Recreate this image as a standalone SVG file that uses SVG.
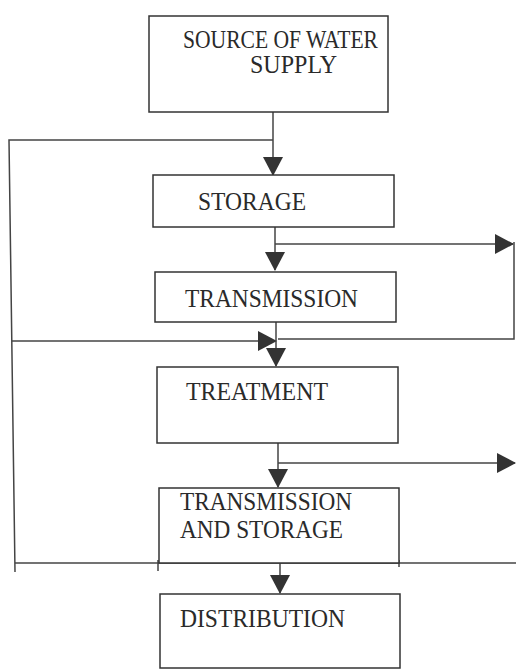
<svg xmlns="http://www.w3.org/2000/svg" width="516" height="670" viewBox="0 0 516 670">
<style>
.box{fill:#fff;stroke:#333;stroke-width:1.5}
.lbl{font-family:"Liberation Serif","Times New Roman",serif;font-size:25px;fill:#2a2a2a}
.ln{fill:none;stroke:#444;stroke-width:1.5}
</style>
<defs>
<marker id="ah" markerUnits="userSpaceOnUse" markerWidth="19" markerHeight="20" viewBox="0 0 19 20" refX="18" refY="10" orient="auto">
<path d="M0,0 L19,10 L0,20 Z" fill="#333"/>
</marker>
</defs>
<rect width="516" height="670" fill="#fff"/>
<g id="connectors">
<path class="ln" d="M273,112 V175" marker-end="url(#ah)"/>
<path class="ln" d="M273,140 H9 L15,572"/>
<path class="ln" d="M275,227 V270" marker-end="url(#ah)"/>
<path class="ln" d="M275,244 H513" marker-end="url(#ah)"/>
<path class="ln" d="M514,242 V339 H278"/>
<path class="ln" d="M12,341 H276" marker-end="url(#ah)"/>
<path class="ln" d="M276,322 V366" marker-end="url(#ah)"/>
<path class="ln" d="M278,443 V487" marker-end="url(#ah)"/>
<path class="ln" d="M278,463 H515" marker-end="url(#ah)"/>
<path class="ln" d="M15,563 H516"/>
<path class="ln" d="M158,560 V571 M399,560 V567"/>
<path class="ln" d="M280,563 V593" marker-end="url(#ah)"/>
</g>
<g id="source">
<rect class="box" x="149" y="16" width="239" height="96"/>
<text class="lbl" x="183" y="48" textLength="195" lengthAdjust="spacingAndGlyphs">SOURCE OF WATER</text>
<text class="lbl" x="250" y="73" textLength="87" lengthAdjust="spacingAndGlyphs">SUPPLY</text>
</g>
<g id="storage">
<rect class="box" x="153" y="175" width="241" height="52"/>
<text class="lbl" x="198" y="210" textLength="108" lengthAdjust="spacingAndGlyphs">STORAGE</text>
</g>
<g id="transmission">
<rect class="box" x="155" y="272" width="241" height="50"/>
<text class="lbl" x="185" y="307" textLength="173" lengthAdjust="spacingAndGlyphs">TRANSMISSION</text>
</g>
<g id="treatment">
<rect class="box" x="157" y="367" width="241" height="76"/>
<text class="lbl" x="186" y="400" textLength="142" lengthAdjust="spacingAndGlyphs">TREATMENT</text>
</g>
<g id="transmission-storage">
<rect class="box" x="159" y="488" width="240" height="75"/>
<text class="lbl" x="180" y="510" textLength="172" lengthAdjust="spacingAndGlyphs">TRANSMISSION</text>
<text class="lbl" x="180" y="538" textLength="163" lengthAdjust="spacingAndGlyphs">AND STORAGE</text>
</g>
<g id="distribution">
<rect class="box" x="160" y="594" width="240" height="74"/>
<text class="lbl" x="180" y="627" textLength="165" lengthAdjust="spacingAndGlyphs">DISTRIBUTION</text>
</g>
</svg>
